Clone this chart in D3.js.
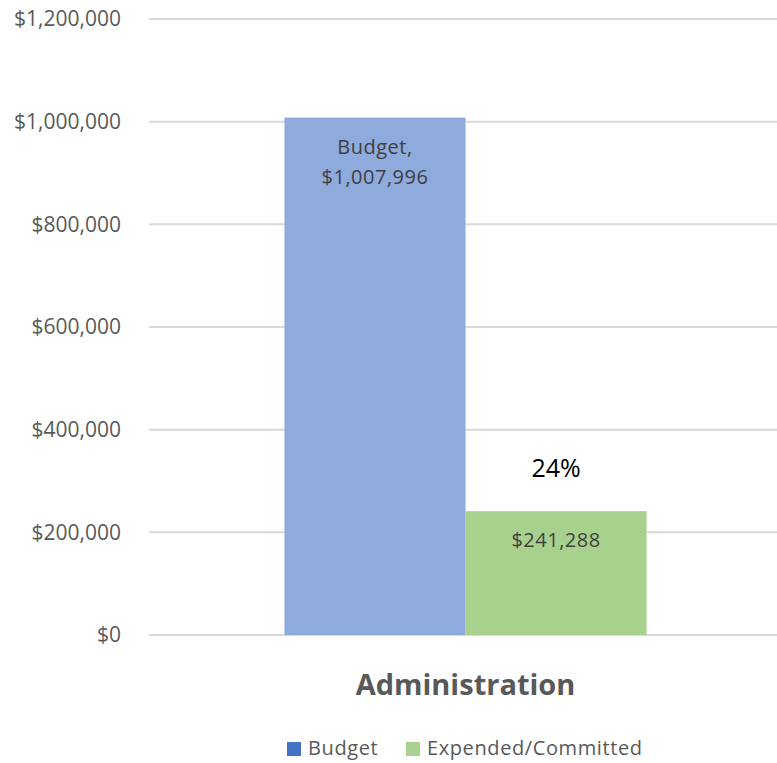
<!DOCTYPE html>
<html lang="en">
<head>
    <meta charset="UTF-8">
    <title>Administration Budget vs Expended</title>
    <style>
        body {
            margin: 0;
            padding: 0;
            background: #fff;
            font-family: "Open Sans", Lato, sans-serif;
        }

        .grid line {
            stroke: #d9d9d9;
            stroke-width: 2px;
        }

        .y-label {
            font-size: 21px;
            fill: #595959;
        }
    </style>
</head>
<body>
    <div id="chart"></div>
    <script src="https://d3js.org/d3.v7.min.js"></script>
    <script>
        // data
        const categories = ["Administration"];
        const seriesNames = ["Budget", "Expended/Committed"];
        const budget = [1007996];
        const expended = [241288];
        const yTicks = [0, 200000, 400000, 600000, 800000, 1000000, 1200000];

        const W = 777, H = 763;
        const plot = { left: 149, right: 782, top: 19, bottom: 635 };

        const barColors = ["#8faadc", "#a9d18e"];
        const legendColors = ["#4472c4", "#a9d18e"];

        const svg = d3.select("#chart").append("svg")
            .attr("width", W)
            .attr("height", H);

        const y = d3.scaleLinear()
            .domain([0, 1200000])
            .range([plot.bottom, plot.top]);

        const x0 = d3.scaleBand()
            .domain(categories)
            .range([plot.left, plot.right])
            .paddingInner(0)
            .paddingOuter(0.374);

        const x1 = d3.scaleBand()
            .domain(seriesNames)
            .range([0, x0.bandwidth()]);

        const money = d3.format("$,.0f");

        // gridlines
        svg.append("g")
            .attr("class", "grid")
            .selectAll("line")
            .data(yTicks)
            .enter().append("line")
            .attr("x1", plot.left)
            .attr("x2", plot.right)
            .attr("y1", d => y(d))
            .attr("y2", d => y(d));

        // y axis labels
        const yAxis = d3.axisLeft(y).tickValues(yTicks).tickFormat(money).tickSize(0).tickPadding(0);
        const yg = svg.append("g")
            .attr("transform", "translate(121,0)")
            .call(yAxis)
            .attr("font-family", null)
            .attr("font-size", null);
        yg.select(".domain").remove();
        yg.selectAll("text")
            .attr("class", "y-label")
            .attr("fill", null);

        const rows = categories.map((c, i) => ({
            cat: c,
            values: [
                { key: seriesNames[0], value: budget[i] },
                { key: seriesNames[1], value: expended[i] }
            ]
        }));

        const groups = svg.selectAll(".cat")
            .data(rows)
            .enter().append("g")
            .attr("class", "cat")
            .attr("transform", d => "translate(" + x0(d.cat) + ",0)");

        groups.selectAll("rect")
            .data(d => d.values)
            .enter().append("rect")
            .attr("x", d => x1(d.key))
            .attr("y", d => y(d.value))
            .attr("width", x1.bandwidth())
            .attr("height", d => y(0) - y(d.value))
            .attr("fill", (d, i) => barColors[i]);

        // data labels
        groups.each(function (d) {
            const g = d3.select(this);
            const b = d.values[0], e = d.values[1];
            const bx = x1(b.key) + x1.bandwidth() / 2;
            const ex = x1(e.key) + x1.bandwidth() / 2;

            const t = g.append("text")
                .attr("text-anchor", "middle")
                .attr("fill", "#404040")
                .style("font-size", "20px")
                .style("letter-spacing", "0.5px");
            t.append("tspan").attr("x", bx).attr("y", y(b.value) + 36).text(b.key + ",");
            t.append("tspan").attr("x", bx).attr("y", y(b.value) + 66).text(money(b.value));

            g.append("text")
                .attr("x", ex)
                .attr("y", y(e.value) + 36)
                .attr("text-anchor", "middle")
                .attr("fill", "#404040")
                .style("font-size", "20px")
                .style("letter-spacing", "0.5px")
                .text(money(e.value));

            g.append("text")
                .attr("x", ex)
                .attr("y", y(e.value) - 34)
                .attr("text-anchor", "middle")
                .attr("fill", "#000")
                .style("font-size", "25px")
                .text(Math.round(e.value / b.value * 100) + "%");
        });

        // category label
        svg.selectAll(".cat-label")
            .data(categories)
            .enter().append("text")
            .attr("class", "cat-label")
            .attr("x", d => x0(d) + x0.bandwidth() / 2)
            .attr("y", 695)
            .attr("text-anchor", "middle")
            .attr("fill", "#595959")
            .style("font-size", "29px")
            .style("font-weight", "bold")
            .text(d => d);

        // legend
        const legendX = [287, 406];
        const legend = svg.selectAll(".legend")
            .data(seriesNames)
            .enter().append("g")
            .attr("class", "legend")
            .attr("transform", (d, i) => "translate(" + legendX[i] + ",742)");
        legend.append("rect")
            .attr("width", 14)
            .attr("height", 14)
            .attr("fill", (d, i) => legendColors[i]);
        legend.append("text")
            .attr("x", 21)
            .attr("y", 13)
            .attr("fill", "#595959")
            .style("font-size", "20px")
            .style("letter-spacing", "0.6px")
            .text(d => d);
    </script>
</body>
</html>
